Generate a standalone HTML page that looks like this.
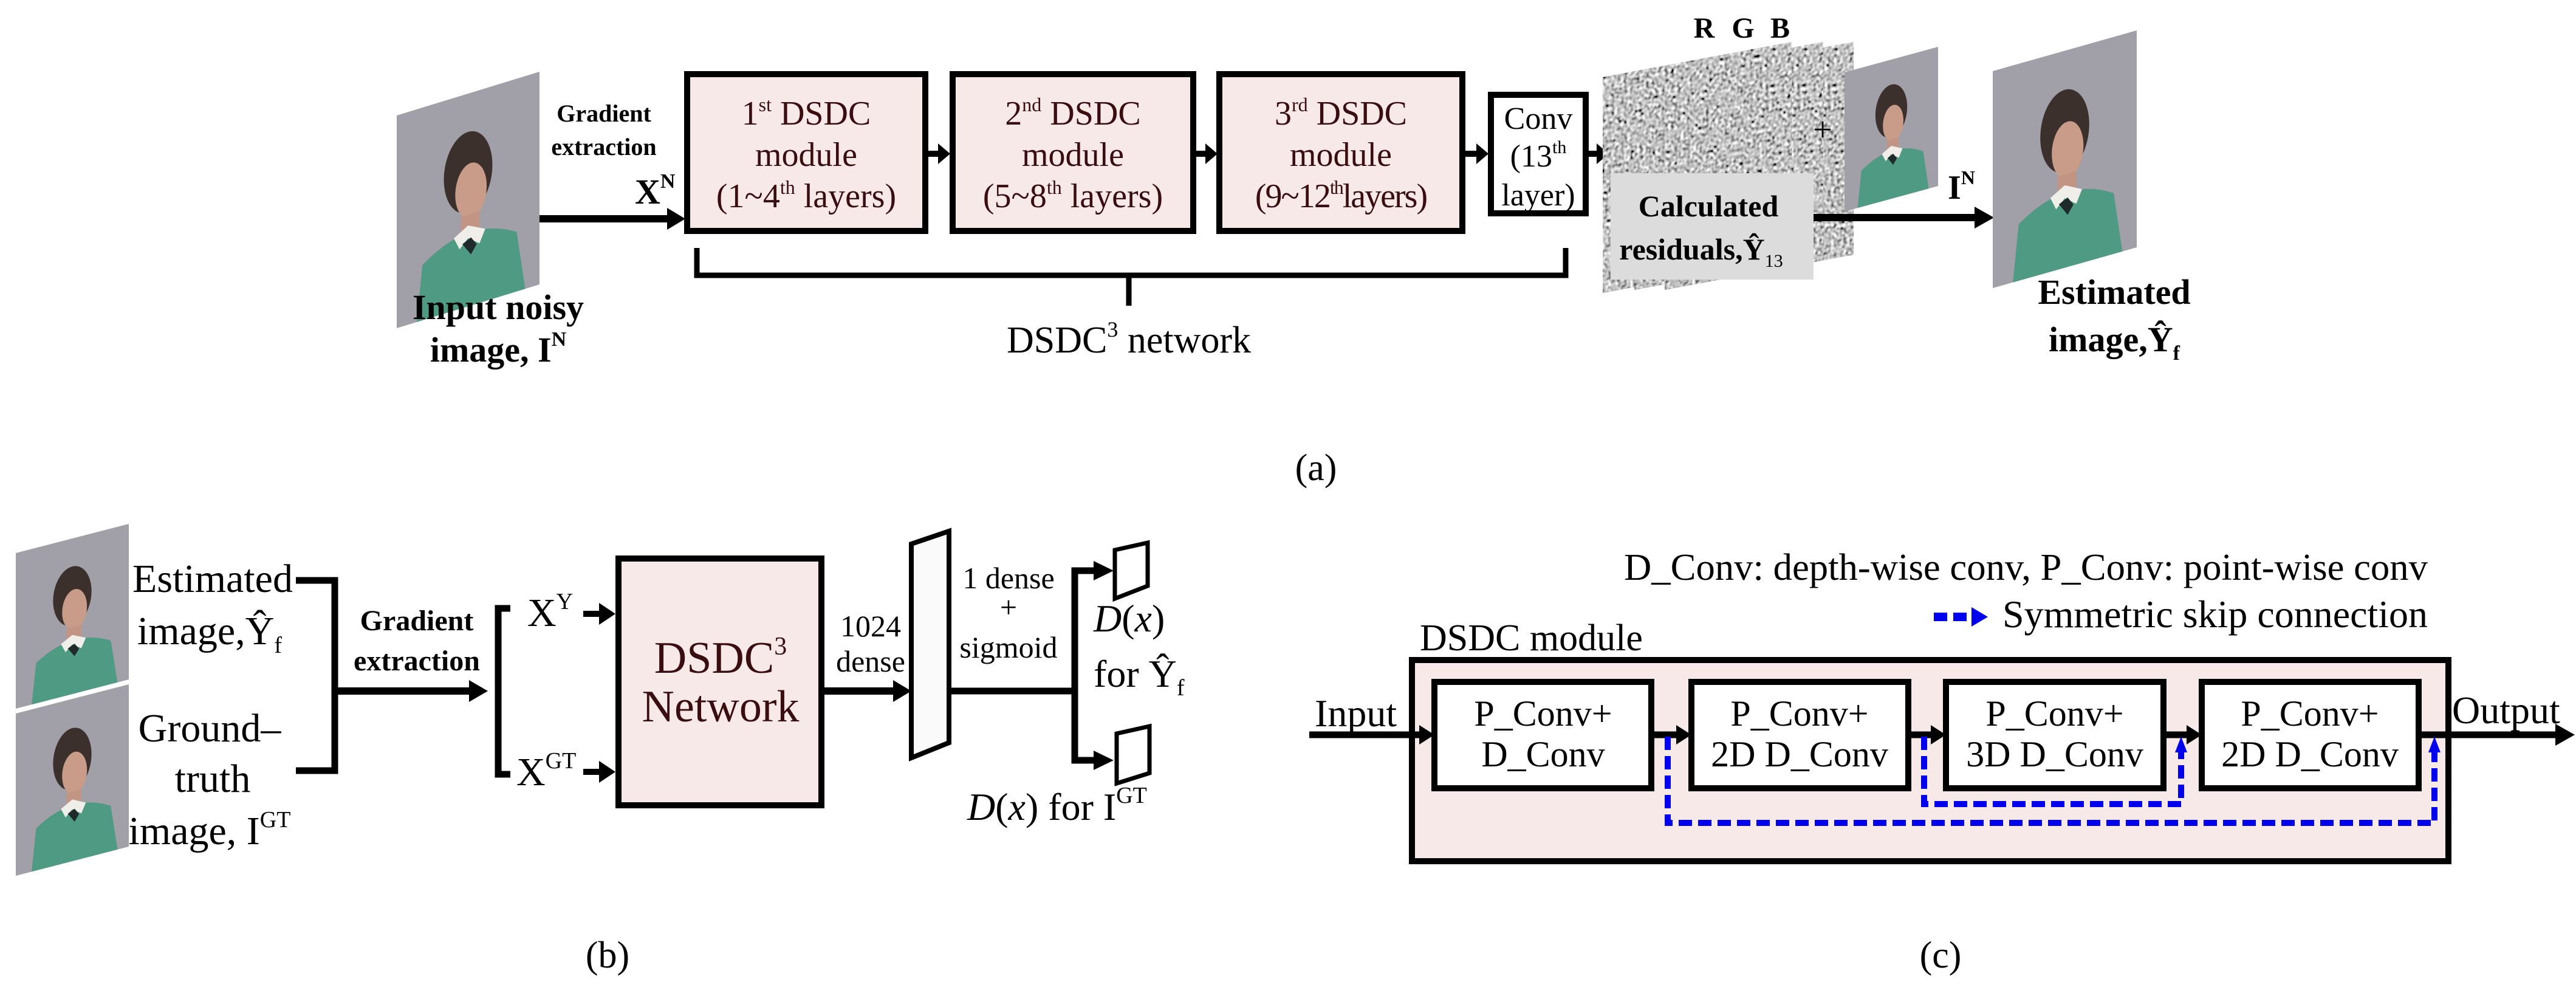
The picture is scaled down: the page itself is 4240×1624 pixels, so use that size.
<!DOCTYPE html>
<html><head><meta charset="utf-8"><style>
html,body{margin:0;padding:0;background:#fff;}
svg{display:block;}
text{font-family:"Liberation Serif",serif;}
</style></head><body>
<svg width="4240" height="1624" viewBox="0 0 4240 1624" xmlns="http://www.w3.org/2000/svg">
<defs>
<filter id="nz" x="0" y="0" width="100%" height="100%">
<feTurbulence type="fractalNoise" baseFrequency="0.6" numOctaves="1" seed="3"/>
<feColorMatrix type="matrix" values="0.33 0.33 0.33 0 0  0.33 0.33 0.33 0 0  0.33 0.33 0.33 0 0  0 0 0 0 1"/>
<feComponentTransfer><feFuncR type="linear" slope="3" intercept="-0.95"/><feFuncG type="linear" slope="3" intercept="-0.95"/><feFuncB type="linear" slope="3" intercept="-0.95"/></feComponentTransfer>
</filter>
<g id="person">
<rect x="0" y="0" width="100" height="100" fill="#a19fa8"/>
<path d="M14 100 L18 74 Q50 58 84 72 L90 100 Z" fill="#4f9a82"/>
<ellipse cx="50" cy="37" rx="17" ry="19" fill="#3b302b"/>
<ellipse cx="52" cy="46" rx="11" ry="13" fill="#c99c8a"/>
<rect x="45" y="57" width="13" height="8" fill="#c29484"/>
<path d="M40 66 L50 62 L62 66 L58 72 L50 68 L44 72 Z" fill="#f0eee8"/>
<path d="M46 70 L52 68 L56 72 L52 76 Z" fill="#1f2a2a"/>
</g>
<g id="noise">
<rect x="0" y="0" width="100" height="100" fill="#6e6e6e"/>
<rect x="0" y="0" width="100" height="100" filter="url(#nz)"/>
</g>
</defs>

<!-- ================= Panel (a) ================= -->
<use href="#person" transform="matrix(2.35,-0.72,0,3.5,653,190)"/>
<text x="994" y="200" font-size="40" font-weight="bold" text-anchor="middle">Gradient</text>
<text x="994" y="255" font-size="40" font-weight="bold" text-anchor="middle">extraction</text>
<text x="1045" y="335" font-size="58" font-weight="bold">X<tspan font-size="34" dy="-26">N</tspan></text>
<line x1="888" y1="360" x2="1100" y2="360" stroke="#000" stroke-width="12"/>
<polygon points="1098,342 1128,360 1098,378" fill="#000"/>
<text x="820" y="525" font-size="58" font-weight="bold" text-anchor="middle">Input noisy</text>
<text x="820" y="595" font-size="58" font-weight="bold" text-anchor="middle">image, I<tspan font-size="34" dy="-26">N</tspan></text>

<g stroke="#000" stroke-width="10" fill="#f8e9e9">
<rect x="1131" y="122" width="392" height="258"/>
<rect x="1568" y="122" width="396" height="258"/>
<rect x="2007" y="122" width="400" height="258"/>
<rect x="2454" y="156" width="156" height="195" fill="#fff"/>
</g>
<g font-size="56" fill="#3a0d10" text-anchor="middle">
<text x="1327" y="205">1<tspan font-size="32" dy="-22">st</tspan><tspan dy="22"> DSDC</tspan></text>
<text x="1327" y="273">module</text>
<text x="1327" y="341">(1~4<tspan font-size="32" dy="-22">th</tspan><tspan dy="22"> layers)</tspan></text>
<text x="1766" y="205">2<tspan font-size="32" dy="-22">nd</tspan><tspan dy="22"> DSDC</tspan></text>
<text x="1766" y="273">module</text>
<text x="1766" y="341">(5~8<tspan font-size="32" dy="-22">th</tspan><tspan dy="22"> layers)</tspan></text>
<text x="2207" y="205">3<tspan font-size="32" dy="-22">rd</tspan><tspan dy="22"> DSDC</tspan></text>
<text x="2207" y="273">module</text>
<text x="2207" y="341" letter-spacing="-2">(9~12<tspan font-size="32" dy="-22">th</tspan><tspan dy="22">layers)</tspan></text>
</g>
<g font-size="52" fill="#000" text-anchor="middle">
<text x="2532" y="212">Conv</text>
<text x="2532" y="274">(13<tspan font-size="30" dy="-22">th</tspan></text>
<text x="2532" y="338">layer)</text>
</g>
<g fill="#000">
<rect x="1526" y="248" width="20" height="10"/><polygon points="1544,236 1564,253 1544,270"/>
<rect x="1966" y="248" width="20" height="10"/><polygon points="1984,236 2004,253 1984,270"/>
<rect x="2410" y="248" width="22" height="10"/><polygon points="2430,236 2450,253 2430,270"/>
<rect x="2613" y="248" width="18" height="10"/><polygon points="2628,236 2648,253 2628,270"/>
</g>
<path d="M1147 408 L1147 453 L2577 453 L2577 408 M1858 453 L1858 503" stroke="#000" stroke-width="9" fill="none"/>
<text x="1858" y="580" font-size="62" text-anchor="middle">DSDC<tspan font-size="36" dy="-26">3</tspan><tspan dy="26"> network</tspan></text>

<!-- residual sheets -->
<use href="#noise" transform="matrix(3.11,-0.58,0,3.5,2740,127)"/>
<use href="#noise" transform="matrix(3.11,-0.58,0,3.5,2690,127)"/>
<use href="#noise" transform="matrix(3.11,-0.58,0,3.55,2638,127)"/>
<text x="2805" y="62" font-size="48" font-weight="bold" text-anchor="middle">R</text>
<text x="2869" y="62" font-size="48" font-weight="bold" text-anchor="middle">G</text>
<text x="2930" y="62" font-size="48" font-weight="bold" text-anchor="middle">B</text>
<rect x="2651" y="285" width="334" height="175" fill="#dcdcdc"/>
<text x="2812" y="356" font-size="50" font-weight="bold" text-anchor="middle">Calculated</text>
<text x="2800" y="427" font-size="50" font-weight="bold" text-anchor="middle">residuals,Ŷ<tspan font-size="30" font-weight="normal" dy="12">13</tspan></text>
<use href="#person" transform="matrix(1.54,-0.42,0,2.29,3036,119)"/>
<text x="3000" y="232" font-size="56" text-anchor="middle">+</text>
<text x="3206" y="327" font-size="56" font-weight="bold">I<tspan font-size="32" dy="-24">N</tspan></text>
<line x1="2985" y1="358" x2="3255" y2="358" stroke="#000" stroke-width="12"/>
<polygon points="3250,340 3282,358 3250,376" fill="#000"/>
<use href="#person" transform="matrix(2.37,-0.67,0,3.57,3280,117)"/>
<text x="3480" y="500" font-size="58" font-weight="bold" text-anchor="middle">Estimated</text>
<text x="3480" y="578" font-size="58" font-weight="bold" text-anchor="middle">image,Ŷ<tspan font-size="34" dy="14">f</tspan></text>
<text x="2166" y="790" font-size="62" text-anchor="middle">(a)</text>

<!-- ================= Panel (b) ================= -->
<use href="#person" transform="matrix(1.86,-0.48,0,2.56,26,910)"/>
<use href="#person" transform="matrix(1.86,-0.48,0,2.67,26,1174)"/>
<g font-size="66" text-anchor="middle">
<text x="350" y="974">Estimated</text>
<text x="345" y="1060">image,Ŷ<tspan font-size="38" dy="14">f</tspan></text>
<text x="345" y="1220">Ground–</text>
<text x="350" y="1303">truth</text>
<text x="345" y="1389">image, I<tspan font-size="38" dy="-28">GT</tspan></text>
</g>
<path d="M487 955 L551 955 L551 1268 L487 1268" stroke="#000" stroke-width="11" fill="none"/>
<line x1="551" y1="1137" x2="775" y2="1137" stroke="#000" stroke-width="12"/>
<polygon points="772,1119 803,1137 772,1155" fill="#000"/>
<text x="686" y="1037" font-size="48" font-weight="bold" text-anchor="middle">Gradient</text>
<text x="686" y="1103" font-size="48" font-weight="bold" text-anchor="middle">extraction</text>
<path d="M840 1001 L820 1001 L820 1274 L840 1274" stroke="#000" stroke-width="11" fill="none"/>
<text x="868" y="1030" font-size="66">X<tspan font-size="38" dy="-28">Y</tspan></text>
<text x="850" y="1292" font-size="66">X<tspan font-size="38" dy="-28">GT</tspan></text>
<g fill="#000">
<rect x="960" y="1005" width="28" height="10"/><polygon points="986,992 1013,1010 986,1028"/>
<rect x="960" y="1265" width="28" height="10"/><polygon points="986,1252 1013,1270 986,1288"/>
</g>
<rect x="1018" y="919" width="334" height="406" fill="#f8e9e9" stroke="#000" stroke-width="10"/>
<text x="1186" y="1107" font-size="74" fill="#3a0d10" text-anchor="middle">DSDC<tspan font-size="42" dy="-30">3</tspan></text>
<text x="1186" y="1187" font-size="74" fill="#3a0d10" text-anchor="middle">Network</text>
<line x1="1356" y1="1137" x2="1475" y2="1137" stroke="#000" stroke-width="12"/>
<polygon points="1470,1119 1500,1137 1470,1155" fill="#000"/>
<text x="1433" y="1047" font-size="50" text-anchor="middle">1024</text>
<text x="1433" y="1105" font-size="50" text-anchor="middle">dense</text>
<polygon points="1500,895 1562,874 1562,1222 1500,1247" fill="#fafafa" stroke="#000" stroke-width="8"/>
<line x1="1564" y1="1137" x2="1769" y2="1137" stroke="#000" stroke-width="11"/>
<path d="M1800 939 L1769 939 L1769 1251 L1800 1251" stroke="#000" stroke-width="11" fill="none"/>
<polygon points="1800,923 1833,939 1800,955" fill="#000"/>
<polygon points="1800,1235 1833,1251 1800,1267" fill="#000"/>
<text x="1660" y="968" font-size="50" text-anchor="middle">1 dense</text>
<text x="1660" y="1016" font-size="50" text-anchor="middle">+</text>
<text x="1660" y="1082" font-size="50" text-anchor="middle">sigmoid</text>
<polygon points="1835,905 1889,893 1889,964 1835,985" fill="#fff" stroke="#000" stroke-width="7"/>
<polygon points="1838,1207 1892,1195 1892,1272 1838,1289" fill="#fff" stroke="#000" stroke-width="7"/>
<text x="1800" y="1039" font-size="64"><tspan font-style="italic">D</tspan>(<tspan font-style="italic">x</tspan>)</text>
<text x="1800" y="1130" font-size="64">for Ŷ<tspan font-size="38" dy="14">f</tspan></text>
<text x="1592" y="1349" font-size="64"><tspan font-style="italic">D</tspan>(<tspan font-style="italic">x</tspan>) for I<tspan font-size="38" dy="-28">GT</tspan></text>
<text x="1000" y="1592" font-size="62" text-anchor="middle">(b)</text>

<!-- ================= Panel (c) ================= -->
<text x="2673" y="954" font-size="62" textLength="1323" lengthAdjust="spacingAndGlyphs">D_Conv: depth-wise conv, P_Conv: point-wise conv</text>
<line x1="3183" y1="1015" x2="3250" y2="1015" stroke="#0000ee" stroke-width="14" stroke-dasharray="22,10"/>
<polygon points="3245,999 3272,1015 3245,1031" fill="#0000ee"/>
<text x="3296" y="1032" font-size="64" textLength="700" lengthAdjust="spacingAndGlyphs">Symmetric skip connection</text>
<text x="2337" y="1070" font-size="62">DSDC module</text>
<rect x="2324" y="1086" width="1706" height="331" fill="#f8e9e9" stroke="#000" stroke-width="10"/>
<g fill="#fff" stroke="#000" stroke-width="10">
<rect x="2361" y="1122" width="357" height="175"/>
<rect x="2784" y="1122" width="357" height="175"/>
<rect x="3203" y="1122" width="358" height="175"/>
<rect x="3624" y="1122" width="357" height="175"/>
</g>
<g font-size="60" text-anchor="middle">
<text x="2540" y="1194">P_Conv+</text><text x="2540" y="1261">D_Conv</text>
<text x="2962" y="1194">P_Conv+</text><text x="2962" y="1261">2D D_Conv</text>
<text x="3382" y="1194">P_Conv+</text><text x="3382" y="1261">3D D_Conv</text>
<text x="3802" y="1194">P_Conv+</text><text x="3802" y="1261">2D D_Conv</text>
</g>
<g stroke="#000" stroke-width="11">
<line x1="2155" y1="1209" x2="2340" y2="1209"/>
<line x1="2718" y1="1209" x2="2762" y2="1209"/>
<line x1="3141" y1="1209" x2="3182" y2="1209"/>
<line x1="3561" y1="1209" x2="3602" y2="1209"/>
<line x1="3981" y1="1209" x2="4210" y2="1209"/>
</g>
<g fill="#000">
<polygon points="2336,1193 2361,1209 2336,1225"/>
<polygon points="2759,1193 2784,1209 2759,1225"/>
<polygon points="3178,1193 3203,1209 3178,1225"/>
<polygon points="3599,1193 3624,1209 3599,1225"/>
<polygon points="4206,1191 4238,1209 4206,1227"/>
</g>
<text x="2164" y="1195" font-size="64">Input</text>
<text x="4036" y="1190" font-size="64">Output</text>
<g stroke="#0000ee" stroke-width="10" fill="none" stroke-dasharray="22,10">
<path d="M2745 1212 L2745 1354 L4007 1354 L4007 1235"/>
<path d="M3167 1212 L3167 1323 L3590 1323 L3590 1235"/>
</g>
<polygon points="3580,1238 3590,1212 3600,1238" fill="#0000ee"/>
<polygon points="3997,1238 4007,1212 4017,1238" fill="#0000ee"/>
<text x="3194" y="1592" font-size="62" text-anchor="middle">(c)</text>
</svg>
</body></html>
